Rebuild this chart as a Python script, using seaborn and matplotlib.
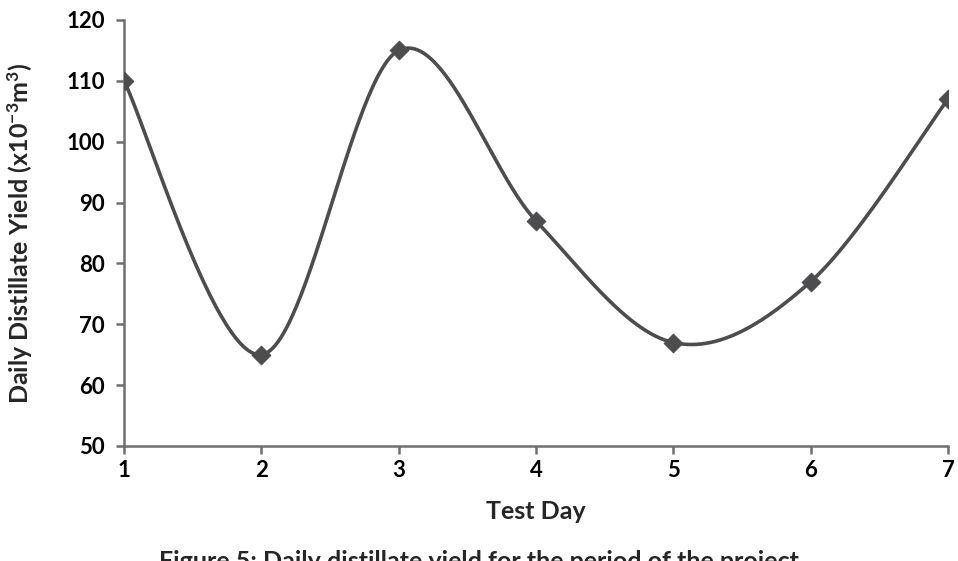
import numpy as np
import pandas as pd
import matplotlib
matplotlib.use("Agg")
import matplotlib.pyplot as plt
import seaborn as sns

# values
test_day = [1, 2, 3, 4, 5, 6, 7]
daily_yield = [110, 65, 115, 87, 67, 77, 107]
y_ticks = [50, 60, 70, 80, 90, 100, 110, 120]
x_label = "Test Day"
y_label = "Daily Distillate Yield (x10$^{-3}$m$^{3}$)"
caption = "Figure 5: Daily distillate yield for the period of the project"

LINE_COLOR = "#4d4d4f"
AXIS_COLOR = "#6e6e6e"


def smooth_curve(xs, ys, steps=60):
    """Excel-style smoothed line (Catmull-Rom Bezier segments)."""
    pts = np.column_stack([xs, ys]).astype(float)
    padded = np.vstack([pts[0], pts, pts[-1]])
    t = np.linspace(0, 1, steps)[:, None]
    out = []
    for i in range(len(pts) - 1):
        p0, p1, p2, p3 = padded[i], padded[i + 1], padded[i + 2], padded[i + 3]
        c1 = p1 + (p2 - p0) / 6
        c2 = p2 - (p3 - p1) / 6
        seg = ((1 - t) ** 3) * p1 + 3 * ((1 - t) ** 2) * t * c1 \
            + 3 * (1 - t) * t ** 2 * c2 + t ** 3 * p2
        out.append(seg if i == 0 else seg[1:])
    out = np.vstack(out)
    return pd.DataFrame({"day": out[:, 0], "yield": out[:, 1]})


sns.set_theme(style="white")
plt.rcParams["font.family"] = ["Lato", "DejaVu Sans"]
plt.rcParams["mathtext.fontset"] = "custom"
plt.rcParams["mathtext.rm"] = "Lato:bold"
plt.rcParams["mathtext.default"] = "rm"

points = pd.DataFrame({"day": test_day, "yield": daily_yield})
curve = smooth_curve(test_day, daily_yield)

fig = plt.figure(figsize=(9.58, 5.61), dpi=100)
ax = fig.add_axes([124 / 958, 1 - 446 / 561, (948 - 124) / 958, (446 - 20) / 561])

sns.lineplot(data=curve, x="day", y="yield", sort=False, estimator=None,
             color=LINE_COLOR, linewidth=2.6, ax=ax)
sns.scatterplot(data=points, x="day", y="yield", marker="D", s=90,
                color=LINE_COLOR, edgecolor=LINE_COLOR, zorder=3, ax=ax)

ax.set_xlim(1, 7)
ax.set_ylim(50, 120)
ax.set_xticks(test_day)
ax.set_yticks(y_ticks)
ax.tick_params(axis="both", bottom=True, left=True, labelsize=16,
               color=AXIS_COLOR, width=1.8, length=6, direction="out",
               labelcolor="black", pad=8)
ax.tick_params(axis="x", pad=4)
for lbl in ax.get_xticklabels() + ax.get_yticklabels():
    lbl.set_fontweight("bold")

for side in ["top", "right"]:
    ax.spines[side].set_visible(False)
for side in ["left", "bottom"]:
    ax.spines[side].set_color(AXIS_COLOR)
    ax.spines[side].set_linewidth(1.8)

ax.set_xlabel(x_label, fontsize=18, fontweight="bold", labelpad=14)
ax.set_ylabel(y_label, fontsize=18, fontweight="bold", labelpad=22)

fig.text(0.5, -0.022, caption, ha="center", va="bottom",
         fontsize=18, fontweight="bold")

fig.savefig("out.png", dpi=100, facecolor="white")
